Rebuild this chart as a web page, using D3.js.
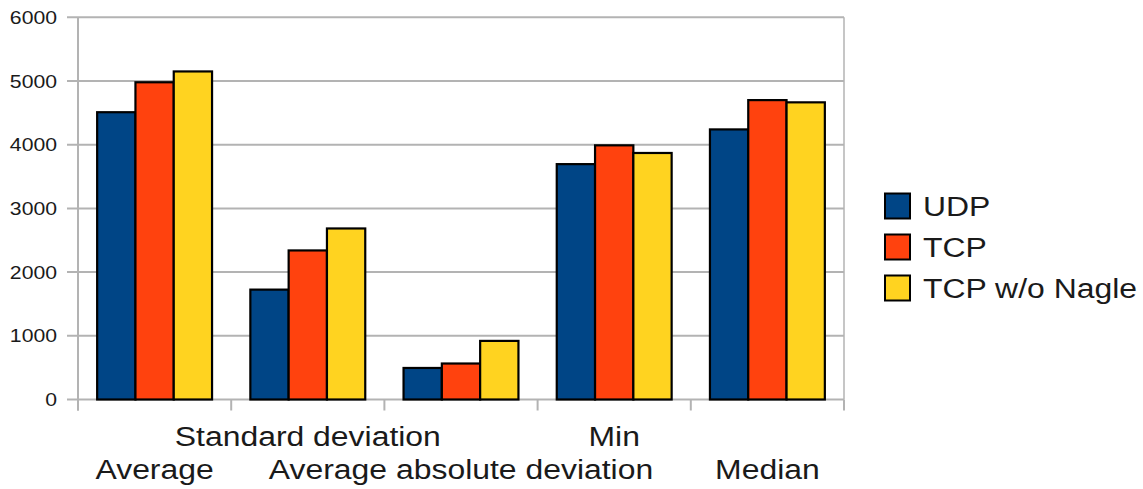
<!DOCTYPE html>
<html>
<head>
<meta charset="utf-8">
<script src="https://cdn.jsdelivr.net/npm/d3@7"></script>
<style>
  html, body { margin: 0; padding: 0; background: #fff; }
  svg { display: block; }
  text { font-family: "Liberation Sans", Arial, sans-serif; fill: #1a1a1a; }
</style>
</head>
<body>
<svg id="chart" width="1143" height="489"></svg>
<script>
// Latency statistics per transport
const categories = ["Average", "Standard deviation", "Average absolute deviation", "Min", "Median"];
const seriesNames = ["UDP", "TCP", "TCP w/o Nagle"];
const udpValues = [4510, 1725, 495, 3695, 4240];
const tcpValues = [4980, 2340, 565, 3990, 4700];
const tcpNoNagleValues = [5150, 2685, 920, 3870, 4665];
const yTicks = [0, 1000, 2000, 3000, 4000, 5000, 6000];
const colors = ["#004586", "#ff420e", "#ffd320"];

const series = [udpValues, tcpValues, tcpNoNagleValues];

const svg = d3.select("#chart");
const plotLeft = 78, plotRight = 844, plotTop = 17.3, plotBottom = 399.5;
const textStretch = 1.14; // glyphs are drawn slightly wide

const x = d3.scaleBand().domain(categories).range([plotLeft, plotRight]).paddingInner(0).paddingOuter(0);
const xInner = d3.scaleBand().domain(seriesNames).range([0, x.bandwidth()]).paddingOuter(0.5).paddingInner(0);
const y = d3.scaleLinear().domain([0, 6000]).range([plotBottom, plotTop]);

// horizontal gridlines with outward ticks
svg.append("g").selectAll("line").data(yTicks).join("line")
  .attr("x1", plotLeft - 11).attr("x2", plotRight)
  .attr("y1", d => y(d)).attr("y2", d => y(d))
  .attr("stroke", "#b3b3b3").attr("stroke-width", 2);

// y axis line and right frame
svg.append("line").attr("x1", plotLeft).attr("x2", plotLeft).attr("y1", plotTop).attr("y2", plotBottom + 11)
  .attr("stroke", "#b3b3b3").attr("stroke-width", 2);
svg.append("line").attr("x1", plotRight).attr("x2", plotRight).attr("y1", plotTop).attr("y2", plotBottom)
  .attr("stroke", "#b3b3b3").attr("stroke-width", 1.5);

// category boundary ticks
const boundaries = categories.map(c => x(c)).concat([plotRight]);
svg.append("g").selectAll("line").data(boundaries).join("line")
  .attr("x1", d => d).attr("x2", d => d)
  .attr("y1", plotBottom).attr("y2", plotBottom + 11)
  .attr("stroke", "#b3b3b3").attr("stroke-width", 2);

// y tick labels
svg.append("g").selectAll("text").data(yTicks).join("text")
  .attr("transform", d => `translate(57,${y(d)}) scale(${textStretch},1)`)
  .attr("dy", "0.35em")
  .attr("text-anchor", "end")
  .style("font-size", "18.6px")
  .text(d => d);

// bars
series.forEach((vals, si) => {
  svg.append("g").selectAll("rect").data(categories).join("rect")
    .attr("x", c => x(c) + xInner(seriesNames[si]))
    .attr("y", (c, i) => y(vals[i]))
    .attr("width", xInner.bandwidth())
    .attr("height", (c, i) => y(0) - y(vals[i]))
    .attr("fill", colors[si])
    .attr("stroke", "#000")
    .attr("stroke-width", 2.2);
});

// staggered category labels
svg.append("g").selectAll("text").data(categories).join("text")
  .attr("transform", (c, i) => `translate(${x(c) + x.bandwidth() / 2},${i % 2 === 1 ? 446 : 479}) scale(${textStretch},1)`)
  .attr("text-anchor", "middle")
  .style("font-size", "28px")
  .text(c => c);

// legend
const legend = svg.append("g").selectAll("g").data(seriesNames).join("g")
  .attr("transform", (d, i) => `translate(885, ${193.5 + i * 41})`);
legend.append("rect")
  .attr("width", 25).attr("height", 25)
  .attr("fill", (d, i) => colors[i])
  .attr("stroke", "#000").attr("stroke-width", 2);
legend.append("text")
  .attr("transform", `translate(38,12.5) scale(${textStretch},1)`)
  .attr("dy", "0.36em")
  .style("font-size", "28px")
  .text(d => d);
</script>
</body>
</html>
